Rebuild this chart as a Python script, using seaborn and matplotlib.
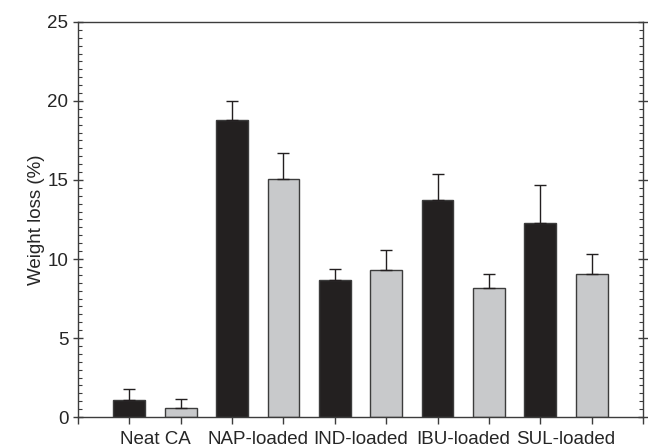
import matplotlib
matplotlib.use("Agg")
import matplotlib.pyplot as plt
import numpy as np
import pandas as pd
import seaborn as sns
from matplotlib.ticker import MultipleLocator, FixedLocator

samples = ["Neat CA", "NAP-loaded", "IND-loaded", "IBU-loaded", "SUL-loaded"]
groups = ["A", "B"]
loss_a = [1.1, 18.8, 8.7, 13.75, 12.25]
err_a = [0.67, 1.2, 0.65, 1.6, 2.45]
loss_b = [0.6, 15.05, 9.3, 8.15, 9.05]
err_b = [0.55, 1.65, 1.3, 0.93, 1.25]

df = pd.DataFrame({
    "sample": samples * 2,
    "group": [groups[0]] * len(samples) + [groups[1]] * len(samples),
    "loss": loss_a + loss_b,
    "err": err_a + err_b,
})

sns.set_style("ticks")
plt.rcParams["font.family"] = ["Liberation Sans", "DejaVu Sans"]
plt.rcParams["font.size"] = 13.5

fig = plt.figure(figsize=(6.48, 4.47), dpi=100)
ax = fig.add_axes([0.1204, 0.0671, 0.8719, 0.8837])

sns.barplot(data=df, x="sample", y="loss", hue="group", order=samples,
            hue_order=groups, palette=["#231f20", "#c8c9cb"], width=1.0,
            gap=0.38, errorbar=None, edgecolor="#3c3c3c", linewidth=1.0,
            legend=False, ax=ax)

# error bars (upper only) on bar centres
centres = []
for patch, (_, row) in zip(ax.patches, df.iterrows()):
    x = patch.get_x() + patch.get_width() / 2
    centres.append(x)
    ax.errorbar(x, row["loss"], yerr=[[0], [row["err"]]], fmt="none",
                ecolor="#231f20", elinewidth=1.0, capsize=4, capthick=1.0)

ax.set_xlim(-0.75, len(samples) - 0.25)
ax.set_ylim(0, 25)
ax.set_ylabel("Weight loss (%)", fontsize=13.5, labelpad=2)
ax.set_xlabel("")

xt = sorted(centres) + [-0.75, len(samples) - 0.25]
ax.xaxis.set_major_locator(FixedLocator(xt))
ax.xaxis.set_minor_locator(FixedLocator(range(len(samples))))
ax.set_xticklabels([""] * len(xt))
ax.set_xticklabels(samples, minor=True)
ax.tick_params(axis="x", which="major", direction="out", length=5, width=1, color="#3c3c3c")
ax.tick_params(axis="x", which="minor", length=0, labelsize=13.5, pad=10)

ax.yaxis.set_major_locator(MultipleLocator(5))
ax.yaxis.set_minor_locator(MultipleLocator(0.5))
ax.tick_params(axis="y", which="major", direction="inout", length=7, width=1,
               left=True, right=True, labelsize=13.5, color="#3c3c3c")
ax.tick_params(axis="y", which="minor", direction="in", length=3, width=0.8,
               left=True, right=True, color="#3c3c3c")

for s in ax.spines.values():
    s.set_visible(True)
    s.set_linewidth(1.0)
    s.set_color("#3c3c3c")

fig.savefig("out.png", dpi=100)
